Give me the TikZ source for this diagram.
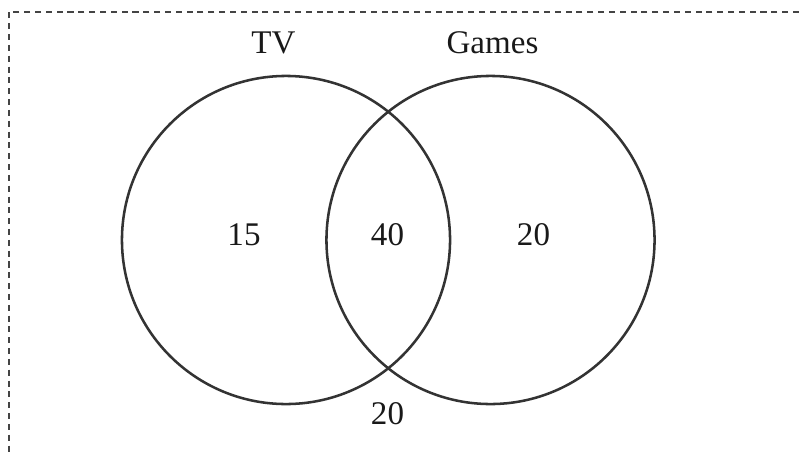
\documentclass[tikz,border=0pt]{standalone}
\usepackage{fontspec}
\setmainfont{Liberation Serif}
\usepackage{tikz}
\definecolor{setline}{HTML}{333333}
\definecolor{frameline}{HTML}{444444}
\tikzstyle{setcircle}=[circle,draw=setline,line width=1.8pt,minimum size=8.2cm,inner sep=0pt]
\tikzstyle{setlabel}=[inner sep=0pt,text=black!90,font=\fontsize{23.5}{28}\selectfont]
\tikzstyle{frame}=[draw=frameline,line width=1.9pt,dash pattern=on 4.3pt off 3.4pt]

\begin{document}
\begin{tikzpicture}[x=0.025cm,y=-0.025cm]
    \useasboundingbox (0,0) rectangle (799,454);
    % Dashed frame, top and left sides only
    \coordinate (frametop) at (799,12);
    \coordinate (framecorner) at (9,12);
    \coordinate (framebottom) at (9,454);
    \path[frame] (frametop) -- (framecorner) -- (framebottom);
    % The two sets
    \node[setcircle] (tvset) at (286,240) {};
    \node[setcircle] (gameset) at (490.5,240) {};
    % Names and counts
    \foreach \pos/\name/\text in {{(273.5,43)/tv/TV}, {(492.5,43)/games/Games},
        {(244,235)/tvonly/15}, {(387.5,235)/both/40}, {(533.5,235)/gamesonly/20},
        {(387.5,413.5)/neither/20}}
        \node[setlabel] (\name) at \pos {\text};
\end{tikzpicture}
\end{document}
